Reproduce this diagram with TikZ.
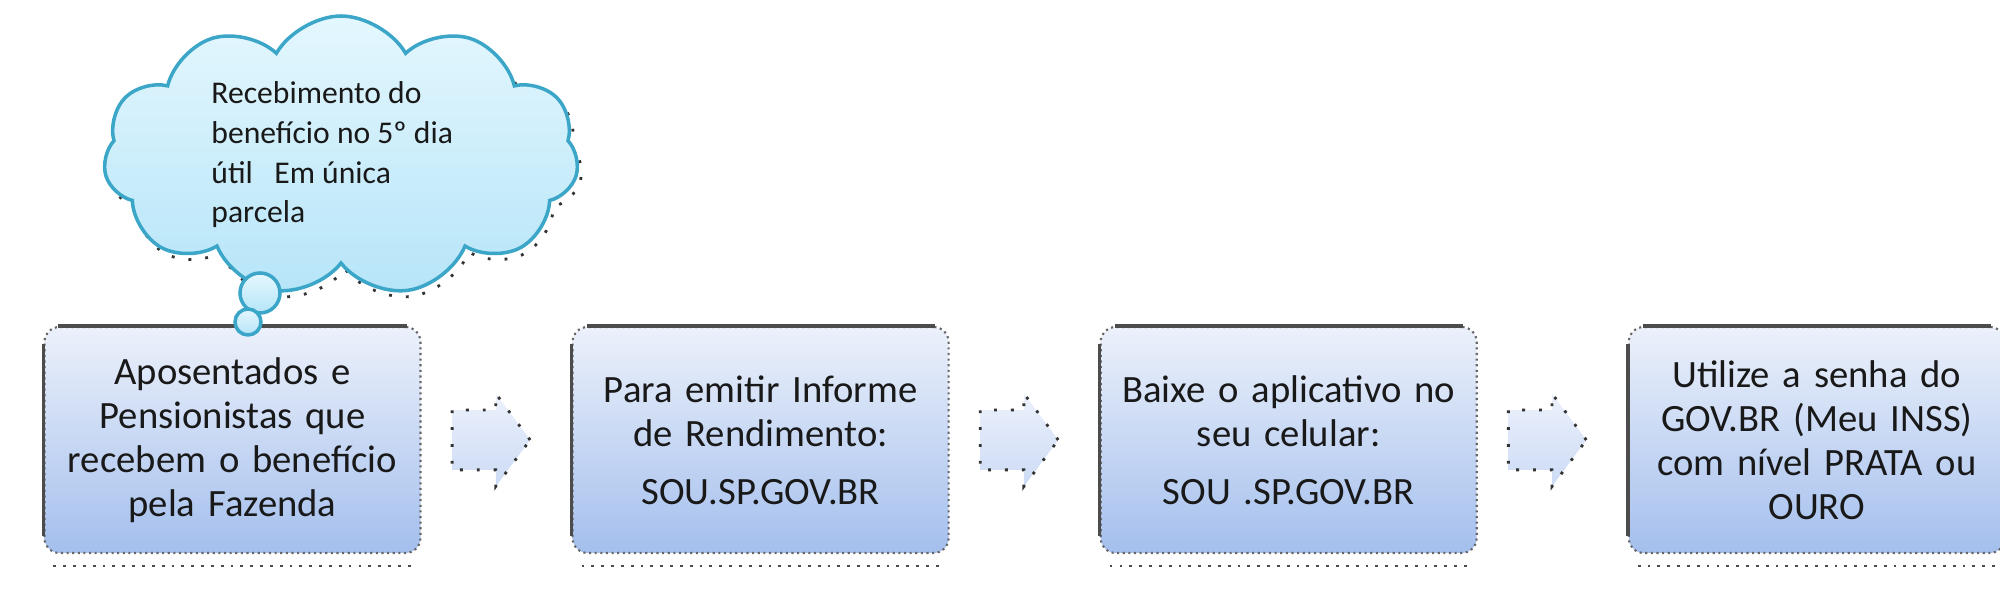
\documentclass[tikz,border=0pt]{standalone}
\usepackage{fontspec}
\setmainfont{Carlito}
\usetikzlibrary{positioning,shapes.symbols,shapes.arrows,calc}
\definecolor{boxtop}{RGB}{236,241,251}
\definecolor{boxbot}{RGB}{164,191,237}
\definecolor{arrtop}{RGB}{236,241,252}
\definecolor{arrbot}{RGB}{204,219,245}
\definecolor{cloudtop}{RGB}{228,247,254}
\definecolor{cloudbot}{RGB}{182,229,248}
\definecolor{cloudline}{RGB}{60,166,200}
\tikzset{
  caixa/.style={rectangle, rounded corners=0.15cm, minimum width=3.76cm,
    minimum height=2.26cm, text width=3.5cm, align=center,
    top color=boxtop, bottom color=boxbot, draw=black!60, densely dotted,
    line width=0.6pt, text=black!90, font=\fontsize{11}{12.5}\selectfont},
  kante/.style={draw=black!70, line width=1pt, solid},
  schatten/.style={draw=black!70, line width=0.8pt, dotted},
  seta/.style={single arrow, minimum height=0.78cm, minimum width=0.9cm,
    single arrow head extend=0.165cm, single arrow tip angle=107,
    inner xsep=0pt, inner ysep=0.285cm, top color=arrtop, bottom color=arrbot,
    draw=black!80, loosely dotted, line width=0.8pt},
  nuvem/.style={cloud, cloud puffs=11, cloud puff arc=120, aspect=1.7,
    minimum width=4.75cm, minimum height=2.8cm, inner sep=0pt,
    top color=cloudtop, bottom color=cloudbot, draw=cloudline, line width=1pt},
  nuvemsombra/.style={cloud, cloud puffs=11, cloud puff arc=120, aspect=1.7,
    minimum width=4.75cm, minimum height=2.8cm, inner sep=0pt,
    draw=black!80, loosely dotted, line width=0.8pt},
  bolha/.style={circle, inner sep=0pt, top color=cloudtop, bottom color=cloudbot,
    draw=cloudline, line width=1pt},
  nuvemtexto/.style={align=left, text=black!90, font=\fontsize{9}{11.3}\selectfont}
}
\begin{document}
\begin{tikzpicture}
\useasboundingbox (0,0) rectangle (20,-5.93);

% etapas
\node[caixa] (b1) at (2.325,-4.40) {Aposentados e\\Pensionistas que\\recebem o benefício\\pela Fazenda};
\node[caixa, right=1.5cm of b1] (b2) {Para emitir Informe\\de Rendimento:\\[4pt]SOU.SP.GOV.BR};
\node[caixa, right=1.5cm of b2] (b3) {Baixe o aplicativo no\\seu celular:\\[4pt]SOU .SP.GOV.BR};
\node[caixa, right=1.5cm of b3] (b4) {Utilize a senha do\\GOV.BR (Meu INSS)\\com nível PRATA ou\\OURO};

\foreach \b in {b1,b2,b3,b4} {
  \draw[kante] ([xshift=0.15cm]\b.north west) -- ([xshift=-0.15cm]\b.north east);
  \draw[kante] ([yshift=-0.18cm]\b.north west) -- ([yshift=0.18cm]\b.south west);
  \draw[schatten] ([xshift=0.1cm,yshift=-0.12cm]\b.south west) -- ([xshift=-0.1cm,yshift=-0.12cm]\b.south east);
}

% setas
\node[seta] (s1) at ($(b1.east)!0.39!(b2.west)$) {};
\node[seta] (s2) at ($(b2.east)!0.39!(b3.west)$) {};
\node[seta] (s3) at ($(b3.east)!0.39!(b4.west)$) {};

% nuvem
\node[nuvemsombra] (cs) at (3.45,-1.62) {};
\node[nuvem] (c) at (3.41,-1.56) {};
\node[bolha, minimum size=0.4cm] (c1) at (2.60,-2.93) {};
\node[bolha, minimum size=0.26cm] (c2) at (2.48,-3.22) {};
\node[nuvemtexto, anchor=west] (ct) at (1.99,-1.55) {Recebimento do\\benefício no 5º dia\\útil\ \ \ Em única\\parcela};
\end{tikzpicture}
\end{document}
